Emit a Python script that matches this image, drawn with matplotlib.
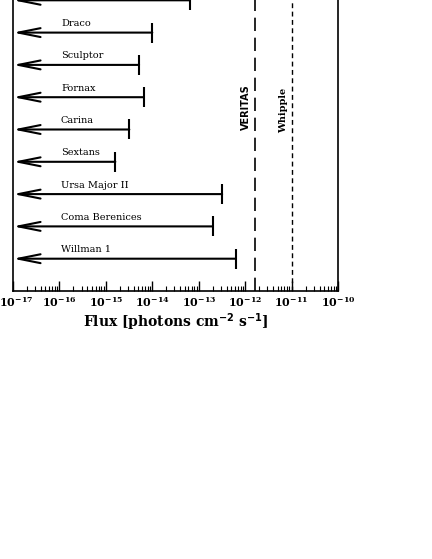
import numpy as np
import matplotlib
matplotlib.use('Agg')
import matplotlib.pyplot as plt
from matplotlib.ticker import LogLocator, NullFormatter

# upper limits on flux for each dwarf galaxy (top row first)
names = ['', 'Draco', 'Sculptor', 'Fornax', 'Carina', 'Sextans',
         'Ursa Major II', 'Coma Berenices', 'Willman 1']
limits = [6.4e-14, 1.0e-14, 5.2e-15, 6.6e-15, 3.2e-15, 1.6e-15,
          3.2e-13, 2.0e-13, 6.3e-13]
rows = [9, 8, 7, 6, 5, 4, 3, 2, 1]

# instrument sensitivities
instr_names = ['VERITAS', 'Whipple']
instr_flux = [1.6e-12, 1.0e-11]

# decades shown on the x axis
decades = [-17, -16, -15, -14, -13, -12, -11, -10]

plt.rcParams['font.family'] = 'DejaVu Serif'
plt.rcParams['font.weight'] = 'bold'

fig = plt.figure(figsize=(4.32, 5.59), dpi=100)
# axes extends past the top of the figure (cropped like the reference)
ax = fig.add_axes([13/432, 1 - 291/559, 325/432, 323/559])

xmin, xmax = 10.0**decades[0], 10.0**decades[-1]
for name, lim, y in zip(names, limits, rows):
    ax.annotate('', xy=(xmin, y), xytext=(lim, y),
                arrowprops=dict(arrowstyle='->,head_length=1.6,head_width=0.32',
                                lw=1.5, color='black', mutation_scale=10,
                                shrinkA=0, shrinkB=0))
    ax.plot(lim, y, marker='|', ms=14, mew=1.5, color='black')
    if name:
        ax.text(1.08e-16, y + 0.28, name,
                fontsize=7, fontweight='normal', va='center', ha='left')

# VERITAS and Whipple sensitivity lines
ax.axvline(instr_flux[0], color='black', lw=1.2, dashes=(8, 4))
ax.axvline(instr_flux[1], color='black', lw=1.0, dashes=(3.5, 2.5))
ax.annotate(instr_names[0], xy=(instr_flux[0], 5.68), xytext=(-6, 0),
            textcoords='offset points', rotation=90, ha='center', va='center',
            fontsize=7, family='DejaVu Sans', fontweight='bold')
ax.annotate(instr_names[1], xy=(instr_flux[1], 5.6), xytext=(-6, 0),
            textcoords='offset points', rotation=90, ha='center', va='center',
            fontsize=7, fontweight='bold')

ax.set_xscale('log')
ax.set_xlim(xmin, xmax)
ax.set_ylim(0, 10)
ax.set_yticks([])
ax.xaxis.set_major_locator(LogLocator(base=10, numticks=20))
ax.xaxis.set_minor_locator(LogLocator(base=10, subs=np.arange(2, 10), numticks=20))
ax.xaxis.set_major_formatter(NullFormatter())
ax.xaxis.set_minor_formatter(NullFormatter())
ax.tick_params(axis='x', which='major', direction='in', length=7, width=1)
ax.tick_params(axis='x', which='minor', direction='in', length=3.5, width=0.8)
for s in ax.spines.values():
    s.set_linewidth(1.2)

# tick labels drawn by hand so the leftmost one stays inside the figure
for e in decades:
    dx = 2.2 if e == decades[0] else 0
    ax.annotate('$\\mathdefault{10^{%d}}$' % e, xy=(10.0**e, 0),
                xycoords=('data', 'axes fraction'), xytext=(dx, -3),
                textcoords='offset points', ha='center', va='top',
                fontsize=8, fontweight='bold')

ax.set_xlabel('Flux [photons cm$^{-2}$ s$^{-1}$]', fontsize=10, fontweight='bold')
ax.xaxis.set_label_coords(0.5, -0.064)

fig.savefig('out.png', dpi=100)
